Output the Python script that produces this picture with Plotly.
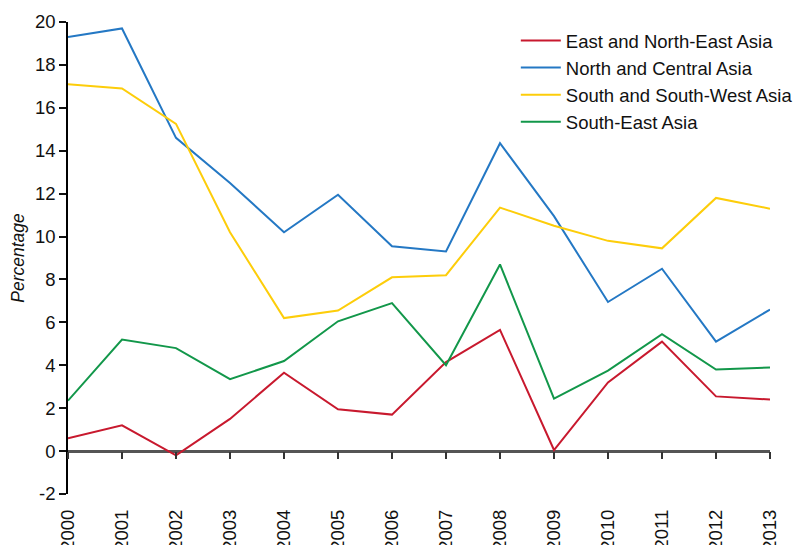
import plotly.graph_objects as go

years = [str(y) for y in range(2000, 2014)]
east_ne = [0.6, 1.2, -0.2, 1.5, 3.65, 1.95, 1.7, 4.15, 5.65, 0.05, 3.2, 5.1, 2.55, 2.4]
north_central = [19.3, 19.7, 14.6, 12.5, 10.2, 11.95, 9.55, 9.3, 14.35, 10.95, 6.95, 8.5, 5.1, 6.6]
south_sw = [17.1, 16.9, 15.25, 10.2, 6.2, 6.55, 8.1, 8.2, 11.35, 10.5, 9.8, 9.45, 11.8, 11.3]
south_east = [2.35, 5.2, 4.8, 3.35, 4.2, 6.05, 6.9, 4.0, 8.7, 2.45, 3.75, 5.45, 3.8, 3.9]
y_ticks = [-2, 0, 2, 4, 6, 8, 10, 12, 14, 16, 18, 20]
y_tick_labels = [str(v) for v in y_ticks]

series = [
    ("East and North-East Asia", east_ne, "#c8192e"),
    ("North and Central Asia", north_central, "#2478c4"),
    ("South and South-West Asia", south_sw, "#fdcd0a"),
    ("South-East Asia", south_east, "#12974a"),
]

xs = list(range(len(years)))
fig = go.Figure()
for name, vals, col in series:
    fig.add_trace(go.Scatter(x=xs, y=vals, mode="lines", name=name,
                             line=dict(color=col, width=2)))
# invisible trace to host the tick axis placed at y=0
fig.add_trace(go.Scatter(x=xs, y=[None]*len(xs), xaxis="x2", showlegend=False,
                         hoverinfo="skip", mode="lines"))

font = "Liberation Sans, Arial, sans-serif"
fs = 18.5
fig.update_layout(
    width=801, height=537,
    margin=dict(l=60, r=38, t=14, b=51),
    plot_bgcolor="white", paper_bgcolor="white",
    font=dict(family=font, size=fs, color="#111"),
    xaxis=dict(range=[0, 13], tickvals=xs, ticktext=years, tickangle=-90,
               showgrid=False, zeroline=False, showline=False, ticks="",
               ticklabelstandoff=11, automargin=False),
    xaxis2=dict(range=[0, 13], overlaying="x", anchor="free", position=2/22,
                tickvals=xs, showticklabels=False, ticks="outside", ticklen=7,
                tickwidth=1.5, tickcolor="#333", showgrid=False, zeroline=False,
                showline=False, automargin=False),
    yaxis=dict(range=[-2, 20], tickvals=y_ticks, ticktext=y_tick_labels,
               showgrid=False, zeroline=True,
               zerolinecolor="#555", zerolinewidth=2.5, showline=True,
               linecolor="black", linewidth=1.5, ticks="outside", ticklen=7,
               tickwidth=1.5, tickcolor="#111", automargin=False,
               title=dict(text="<i>Percentage</i>", standoff=6,
                          font=dict(size=fs - 1))),
    legend=dict(x=0.637, y=1.0, xanchor="left", yanchor="top",
                bgcolor="rgba(0,0,0,0)", font=dict(size=fs),
                tracegroupgap=0, itemwidth=40),
    showlegend=True,
)
fig.write_html("out.html")
